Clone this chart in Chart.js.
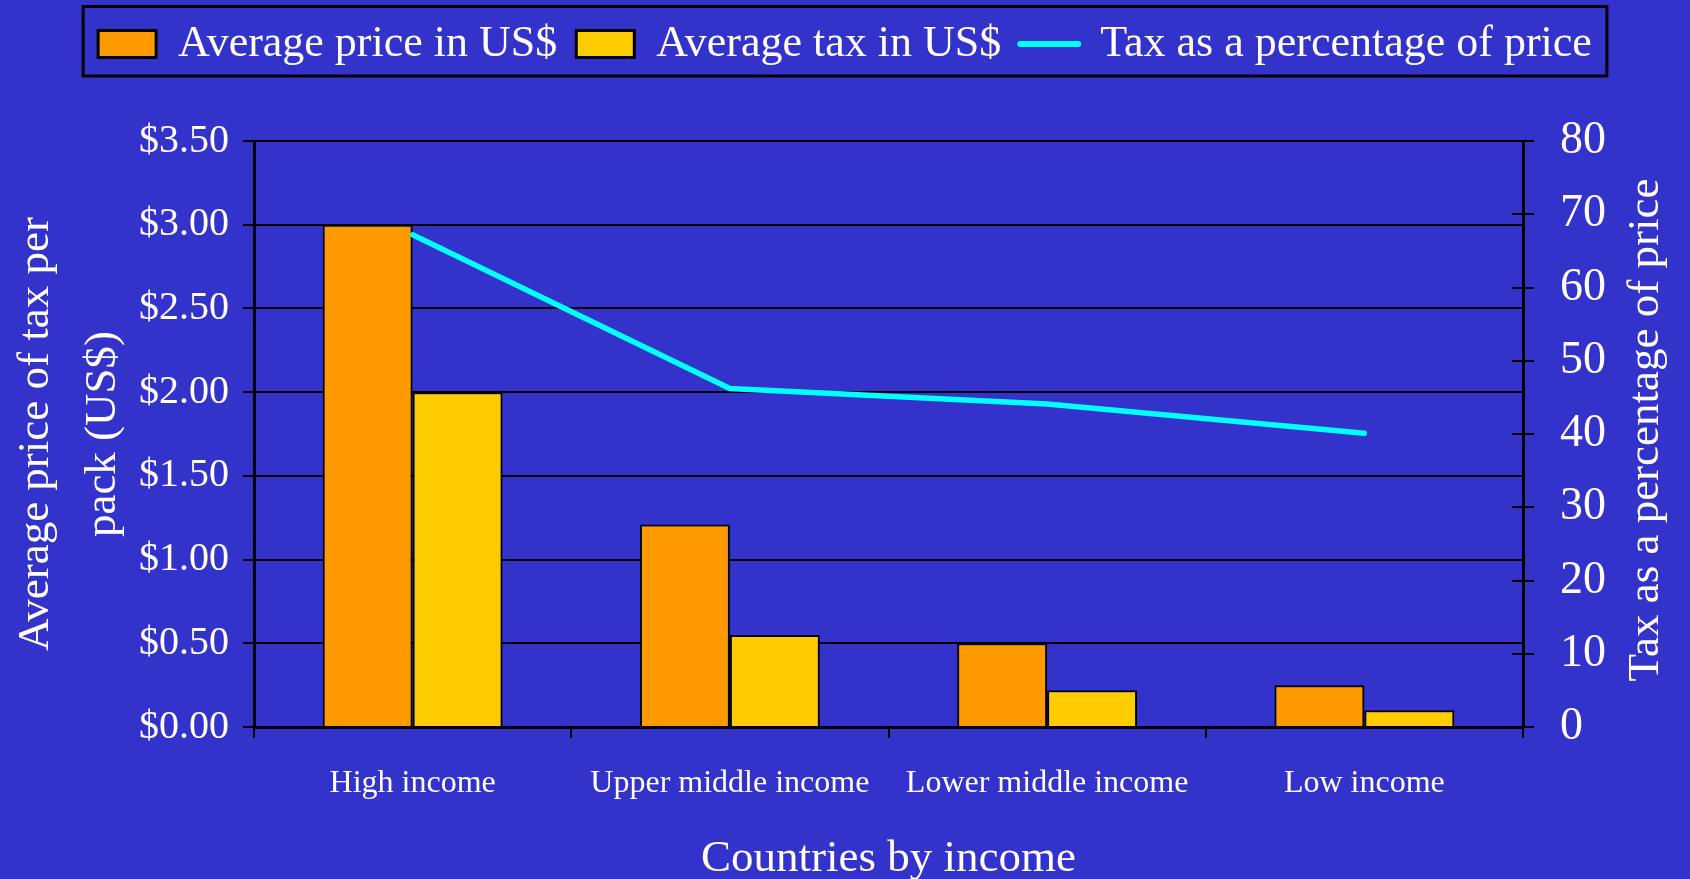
<!DOCTYPE html>
<html><head><meta charset="utf-8">
<script src="https://cdn.jsdelivr.net/npm/chart.js@4"></script>
<style>html,body{margin:0;padding:0;background:#3333CC;overflow:hidden}#wrap{width:1690px;height:879px;position:relative}</style>
</head><body><div id="wrap"><canvas id="c" width="1690" height="879"></canvas></div>
<script>
const categories = ['High income', 'Upper middle income', 'Lower middle income', 'Low income'];
const avgPrice = [3.00, 1.21, 0.50, 0.25];
const avgTax = [2.00, 0.55, 0.22, 0.10];
const taxPct = [67.2, 46.2, 44.1, 40.1];
const seriesNames = ['Average price in US$', 'Average tax in US$', 'Tax as a percentage of price'];
const leftTitle = ['Average price of tax per', 'pack (US$)'];
const rightTitle = 'Tax as a percentage of price';
const xTitle = 'Countries by income';

const FONT = "'Liberation Serif', 'Times New Roman', serif";
const BG = '#3333CC';

const bgPlugin = {
  id: 'bg',
  beforeDraw(chart) {
    const ctx = chart.ctx;
    ctx.save();
    ctx.fillStyle = BG;
    ctx.fillRect(0, 0, chart.width, chart.height);
    ctx.restore();
  }
};

const extrasPlugin = {
  id: 'extras',
  afterDatasetsDraw(chart) {
    // inward part of right-axis tick marks
    const s = chart.scales.y1;
    const ctx = chart.ctx;
    ctx.save();
    ctx.strokeStyle = '#000';
    ctx.lineWidth = 2;
    s.ticks.forEach(t => {
      const y = Math.round(s.getPixelForValue(t.value));
      ctx.beginPath();
      ctx.moveTo(s.left - 11, y);
      ctx.lineTo(s.left, y);
      ctx.stroke();
    });
    ctx.restore();
  },
  afterDraw(chart) {
    const ctx = chart.ctx;
    // legend border
    const hb = chart.legend.legendHitBoxes;
    if (hb && hb.length) {
      let l = Infinity, r = -Infinity;
      hb.forEach(h => { l = Math.min(l, h.left); r = Math.max(r, h.left + h.width); });
      const cy = hb[0].top + hb[0].height / 2;
      ctx.save();
      ctx.strokeStyle = '#000';
      ctx.lineWidth = 3;
      ctx.strokeRect(l - 15, cy - 37.5, (r - l) + 30, 69.5);
      ctx.restore();
    }
    // right axis title, reading bottom to top
    ctx.save();
    ctx.translate(chart.width - 44, (chart.chartArea.top + chart.chartArea.bottom) / 2 - 4);
    ctx.rotate(-Math.PI / 2);
    ctx.fillStyle = '#fff';
    ctx.font = '45px ' + FONT;
    ctx.textAlign = 'center';
    ctx.textBaseline = 'middle';
    ctx.fillText(rightTitle, 0, 0);
    ctx.restore();
  }
};

new Chart(document.getElementById('c'), {
  data: {
    labels: categories,
    datasets: [
      { type: 'bar', label: seriesNames[0], data: avgPrice, backgroundColor: '#FF9900', borderColor: '#000', borderWidth: 2, yAxisID: 'y', order: 2, categoryPercentage: 0.567, barPercentage: 1.0 },
      { type: 'bar', label: seriesNames[1], data: avgTax, backgroundColor: '#FFCC00', borderColor: '#000', borderWidth: 2, yAxisID: 'y', order: 2, categoryPercentage: 0.567, barPercentage: 1.0 },
      { type: 'line', label: seriesNames[2], data: taxPct, borderColor: '#00FFFF', backgroundColor: '#00FFFF', borderWidth: 5.5, pointRadius: 0, pointHoverRadius: 0, borderCapStyle: 'round', borderJoinStyle: 'miter', tension: 0, yAxisID: 'y1', order: 0 }
    ]
  },
  options: {
    responsive: false,
    maintainAspectRatio: false,
    devicePixelRatio: 1,
    animation: false,
    layout: { padding: { top: 3, left: 0, right: 0, bottom: 0 } },
    plugins: {
      tooltip: { enabled: false },
      subtitle: {
        display: true, text: '', position: 'top', weight: 500,
        font: { size: 1, lineHeight: 1 }, padding: { top: 64, bottom: 0 }
      },
      legend: {
        position: 'top',
        labels: {
          usePointStyle: true,
          pointStyleWidth: 58,
          boxHeight: 27,
          color: '#fff',
          font: { family: FONT, size: 44 },
          padding: 19,
          sort: (a, b) => a.datasetIndex - b.datasetIndex,
          generateLabels(chart) {
            const items = Chart.defaults.plugins.legend.labels.generateLabels(chart);
            items.forEach(it => {
              const ds = chart.data.datasets[it.datasetIndex];
              if (ds.type === 'line') {
                it.pointStyle = 'line'; it.lineWidth = 6; it.strokeStyle = '#00FFFF'; it.fillStyle = '#00FFFF'; it.lineCap = 'round';
              } else {
                it.pointStyle = 'rect'; it.lineWidth = 3; it.strokeStyle = '#000';
              }
            });
            return items;
          }
        }
      }
    },
    scales: {
      x: {
        offset: true,
        grid: { drawOnChartArea: false, color: '#000', lineWidth: 2, tickLength: 11, offset: true },
        border: { color: '#000', width: 3 },
        ticks: { color: '#fff', font: { family: FONT, size: 32 }, padding: 26, maxRotation: 0, autoSkip: false },
        title: { display: true, text: xTitle, color: '#fff', font: { family: FONT, size: 45, lineHeight: 0.9 }, padding: { top: 0, bottom: 0 } },
        afterFit(s) { s.height = 152; }
      },
      y: {
        position: 'left',
        min: 0, max: 3.5,
        ticks: { stepSize: 0.5, color: '#fff', font: { family: FONT, size: 40 }, padding: 14, callback: v => '$' + Number(v).toFixed(2) },
        grid: { color: '#000', lineWidth: 2, tickLength: 11, tickColor: '#000' },
        border: { color: '#000', width: 3 },
        title: { display: true, text: leftTitle, color: '#fff', font: { family: FONT, size: 45, lineHeight: 1.48 }, padding: { top: 3, bottom: 0 } },
        afterFit(s) { s.width = 254; }
      },
      y1: {
        position: 'right',
        min: 0, max: 80,
        ticks: { stepSize: 10, color: '#fff', font: { family: FONT, size: 46 }, padding: 26 },
        grid: { drawOnChartArea: false, color: '#000', lineWidth: 2, tickLength: 11 },
        border: { color: '#000', width: 3 },
        afterFit(s) { s.width = 1690 - 1523; }
      }
    }
  },
  plugins: [bgPlugin, extrasPlugin]
});
</script>
</body></html>
